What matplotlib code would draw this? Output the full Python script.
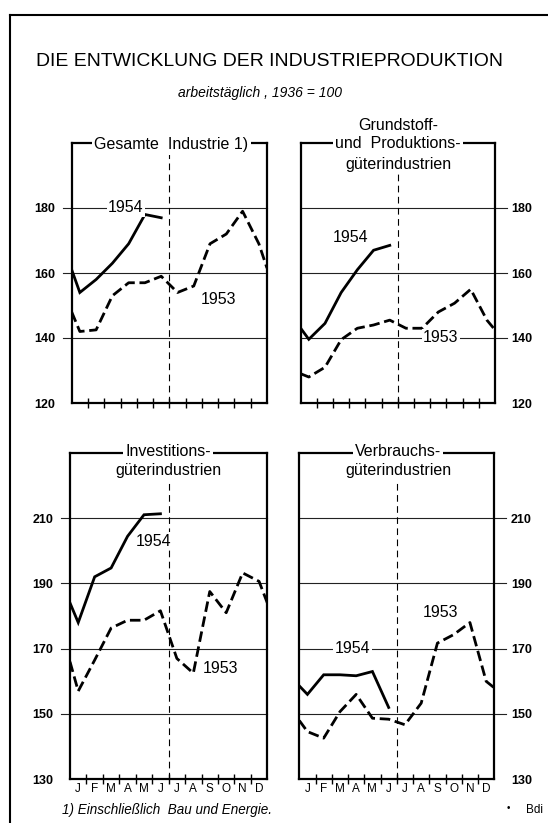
import numpy as np
import matplotlib
matplotlib.use("Agg")
import matplotlib.pyplot as plt
from matplotlib.lines import Line2D

# ---- data (index values 1936 = 100) ----
months = ["J", "F", "M", "A", "M", "J", "J", "A", "S", "O", "N", "D"]

# each panel: value at left edge, monthly values, value at right edge (1953 only)
ges_54_start = 161
ges_54 = [154, 158, 163, 169, 178, 177]
ges_53_start = 148
ges_53 = [142, 142.5, 153, 157, 157, 159, 154, 156, 169, 172, 179, 169]
ges_53_end = 161.5

gru_54_start = 143
gru_54 = [139.6, 144.5, 154, 161, 167, 168.5]
gru_53_start = 129
gru_53 = [128, 131, 139.5, 143, 144, 145.5, 143, 143, 148, 150.7, 155, 145.5]
gru_53_end = 142.5

inv_54_start = 184
inv_54 = [178, 192, 194.7, 204.4, 211, 211.3]
inv_53_start = 166
inv_53 = [157, 166.5, 176.3, 178.7, 178.7, 181.6, 167, 162.5, 187.5, 181, 193.2, 190.6]
inv_53_end = 184

ver_54_start = 158.6
ver_54 = [156, 162, 162, 161.7, 163, 152]
ver_53_start = 148
ver_53 = [144.6, 142.6, 150.7, 156, 148.7, 148.4, 146.7, 153.3, 171.7, 174.3, 178, 160]
ver_53_end = 158

top_ticks = [120, 140, 160, 180]
bot_ticks = [130, 150, 170, 190, 210]

W, H = 548, 823
plt.rcParams["font.family"] = ["Liberation Sans", "DejaVu Sans"]

fig = plt.figure(figsize=(W / 100, H / 100), dpi=100)
fig.patch.set_facecolor("white")


def rect(l, r, t, b):
    return [l / W, 1 - b / H, (r - l) / W, (b - t) / H]


def fig_text(x, y, s, **kw):
    return fig.text(x / W, 1 - y / H, s, **kw)


def fit_width(txt, target_px):
    # shrink/grow a text until it spans the width seen in the reference
    renderer = fig.canvas.get_renderer()
    w = txt.get_window_extent(renderer).width
    txt.set_fontsize(txt.get_fontsize() * target_px / w)


def panel(pos, ylim, yticks, start54, v54, start53, v53, end53, side,
          lab54, lab53, month_labels):
    ax = fig.add_axes(rect(*pos))
    ax.set_xlim(0, 12)
    ax.set_ylim(*ylim)
    for sp in ax.spines.values():
        sp.set_linewidth(1.6)
        sp.set_color("black")

    # horizontal rules, slightly extended towards the labels
    tr = ax.get_yaxis_transform()
    x0, x1 = (-0.045, 1.0) if side == "left" else (0.0, 1.06)
    for v in yticks[1:]:
        ax.plot([x0, x1], [v, v], transform=tr, color="#222222", lw=0.8,
                clip_on=False, zorder=1)

    # half-year divider
    ax.plot([6, 6], ylim, color="black", lw=0.8, ls=(0, (6, 4)), zorder=1)

    # 1954 solid, 1953 dashed (month centres, plus the edge values)
    x54 = np.concatenate([[0], np.arange(len(v54)) + 0.5])
    y54 = np.concatenate([[start54], v54])
    x53 = np.concatenate([[0], np.arange(12) + 0.5, [12]])
    y53 = np.concatenate([[start53], v53, [end53]])
    ax.plot(x54, y54, color="black", lw=2.0, solid_joinstyle="miter", zorder=3)
    ax.plot(x53, y53, color="black", lw=2.0, ls=(0, (3.8, 1.7)), zorder=3)

    box = dict(fc="white", ec="none", pad=1.0)
    ax.text(lab54[0], lab54[1], "1954", ha="center", va="center", fontsize=11.5,
            bbox=box, zorder=4)
    ax.text(lab53[0], lab53[1], "1953", ha="center", va="center", fontsize=11.5,
            bbox=box, zorder=4)

    ax.set_yticks(yticks)
    ax.set_yticklabels([str(t) for t in yticks], fontsize=9, fontweight="bold")
    if side == "right":
        ax.yaxis.tick_right()
    ax.tick_params(axis="y", length=0, pad=12)

    ax.set_xticks(np.arange(1, 12))
    ax.set_xticklabels([])
    ax.tick_params(axis="x", direction="inout", length=7, width=1.0)
    if month_labels:
        for i, m in enumerate(months):
            ax.text(i + 0.5, -0.012, m, transform=ax.get_xaxis_transform(),
                    ha="center", va="top", fontsize=8.5)
    else:
        ax.set_xticks([3, 6, 9], minor=True)
        ax.tick_params(axis="x", which="minor", direction="out", length=12,
                       width=1.0)
    return ax


panel((71.7, 267, 143, 403), (120, 200), top_ticks, ges_54_start, ges_54,
      ges_53_start, ges_53, ges_53_end, "left", (3.34, 180), (9.0, 152), False)
panel((300.7, 495, 143, 403), (120, 200), top_ticks, gru_54_start, gru_54,
      gru_53_start, gru_53, gru_53_end, "right", (3.1, 170.8), (8.66, 140), False)
panel((70, 267.3, 452.7, 779.3), (130, 230), bot_ticks, inv_54_start, inv_54,
      inv_53_start, inv_53, inv_53_end, "left", (5.08, 202.9), (9.15, 163.8), True)
panel((299.3, 494.3, 452.7, 779.3), (130, 230), bot_ticks, ver_54_start, ver_54,
      ver_53_start, ver_53, ver_53_end, "right", (3.27, 170), (8.69, 181), True)

# panel headings sitting on the top frame line
wbox = dict(fc="white", ec="none", pad=1.5)
fig_text(171.5, 145, "Gesamte  Industrie 1)", ha="center", va="center",
         fontsize=11.5, bbox=wbox, zorder=10)
fig_text(398, 125, "Grundstoff-", ha="center", va="center", fontsize=11.5, zorder=10)
fig_text(398, 144, "und  Produktions-", ha="center", va="center", fontsize=11.5,
         bbox=wbox, zorder=10)
fig_text(398, 164, "güterindustrien", ha="center", va="center", fontsize=11.5,
         bbox=wbox, zorder=10)
fig_text(168, 452, "Investitions-", ha="center", va="center", fontsize=11.5,
         bbox=wbox, zorder=10)
fig_text(168, 471, "güterindustrien", ha="center", va="center", fontsize=11.5,
         bbox=wbox, zorder=10)
fig_text(398, 452, "Verbrauchs-", ha="center", va="center", fontsize=11.5,
         bbox=wbox, zorder=10)
fig_text(398, 471, "güterindustrien", ha="center", va="center", fontsize=11.5,
         bbox=wbox, zorder=10)

# title block
title = fig_text(269, 62, "DIE ENTWICKLUNG DER INDUSTRIEPRODUKTION", ha="center",
                 va="center", fontsize=16)
fit_width(title, 468)
fig_text(260, 93, "arbeitstäglich , 1936 = 100", ha="center", va="center",
         fontsize=10, style="italic")
foot = fig_text(62, 810, "1) Einschließlich  Bau und Energie.", ha="left",
                va="center", fontsize=9.5, style="italic")
fit_width(foot, 212)
fig_text(508, 808, "•", ha="center", va="center", fontsize=7)
fig_text(526, 810, "Bdi", ha="left", va="center", fontsize=8.5)

# outer frame (top and left edges of the page box)
fig.add_artist(Line2D([10 / W, 1.0], [1 - 15 / H, 1 - 15 / H], color="black", lw=1.5))
fig.add_artist(Line2D([10 / W, 10 / W], [0.0, 1 - 15 / H], color="black", lw=1.5))

fig.savefig("out.png", dpi=100, facecolor="white")
